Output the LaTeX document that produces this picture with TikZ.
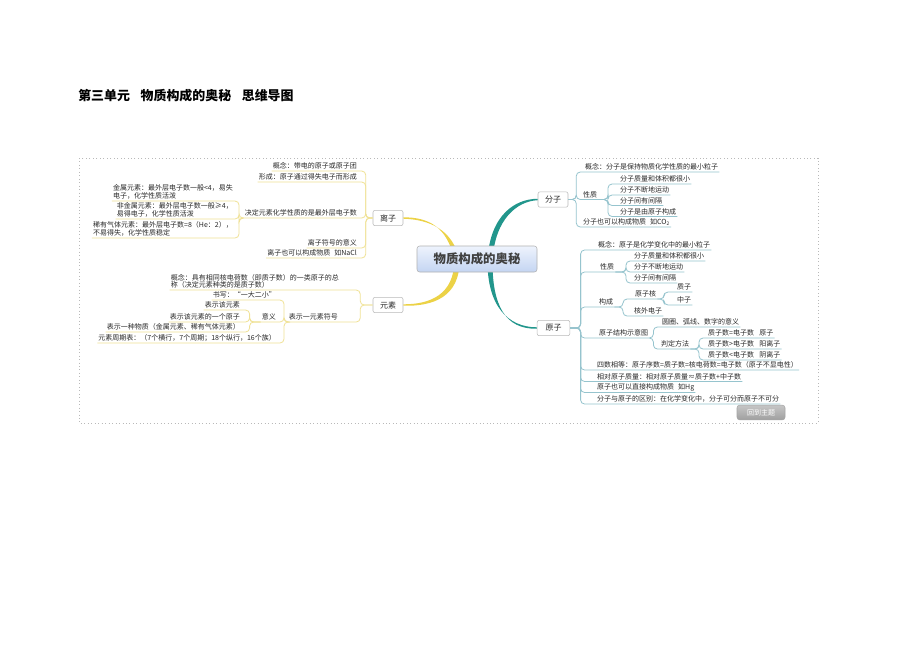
\documentclass[tikz,border=0pt]{standalone}
\usepackage{fontspec}
\newfontfamily\cjk{Noto Sans CJK SC}
\usetikzlibrary{calc}
\definecolor{ybr}{RGB}{236,210,70}
\definecolor{yline}{RGB}{240,226,150}
\definecolor{tbr}{RGB}{34,150,140}
\definecolor{tline}{RGB}{150,196,206}
\definecolor{txt}{RGB}{40,40,40}
\definecolor{cbtop}{RGB}{238,243,253}
\definecolor{cbbot}{RGB}{196,213,242}
\begin{document}
\begin{tikzpicture}[x=0.75pt,y=-0.75pt,
  item/.style={font=\cjk\fontsize{5.25}{5.9}\selectfont, text=txt, inner xsep=0.7pt, inner ysep=0.9pt},
  ritem/.style={item, anchor=south west},
  litem/.style={item, anchor=south east, align=left},
  yl/.style={draw=yline, line width=0.6pt, rounded corners=3pt},
  tl/.style={draw=tline, line width=0.6pt, rounded corners=3pt},
  branch/.style={draw=gray!55, fill=white, rounded corners=1.5pt, font=\cjk\fontsize{6}{7}\selectfont, text=txt, inner sep=0pt, minimum width=22.5pt, minimum height=11.5pt},
  centerbox/.style={draw=gray!60, rounded corners=2pt, top color=cbtop, bottom color=cbbot, font=\cjk\bfseries\fontsize{9.3}{11}\selectfont, text=black!75, minimum width=90pt, minimum height=19.5pt},
  button/.style={draw=gray!70, rounded corners=2pt, top color=gray!45, bottom color=gray!75, font=\cjk\fontsize{5.25}{6}\selectfont, text=white, minimum width=36pt, minimum height=11pt, inner sep=0pt}
]
\useasboundingbox (0,0) rectangle (920,651);
\fill[white] (0,0) rectangle (920,651);

\node[anchor=west, font=\cjk\bfseries\fontsize{9.7}{11}\selectfont, inner sep=0pt] (title) at (78,96) {第三单元\hspace{8pt}物质构成的奥秘\hspace{8pt}思维导图};

\draw[gray!55, dotted, line width=0.6pt] (79,158) rectangle (818,423);

% branch nodes
\node[branch] (lizi) at (388,218) {离子};
\node[branch] (yuansu) at (388,305) {元素};
\node[branch] (fenzi) at (553,199.5) {分子};
\node[branch, minimum width=24.5pt] (yuanzi) at (553.5,328) {原子};

\coordinate (cy) at (457,260);
\coordinate (ct) at (490,260);

% main connectors (tapered)
\fill[ybr] ($(cy)+(-2.5,0)$) .. controls (447,226) and (428,217.3) .. ($(lizi.east)+(0,-0.7)$) -- ($(lizi.east)+(0,0.7)$) .. controls (430,219.5) and (453,230) .. ($(cy)+(2.5,0)$) -- cycle;
\fill[ybr] ($(cy)+(-2.5,0)$) .. controls (454,295) and (430,304.3) .. ($(yuansu.east)+(0,-0.7)$) -- ($(yuansu.east)+(0,0.7)$) .. controls (433,306.5) and (460,297) .. ($(cy)+(2.5,0)$) -- cycle;
\fill[tbr] ($(ct)+(-2.5,0)$) .. controls (490,215) and (515,198.8) .. ($(fenzi.west)+(0,-0.7)$) -- ($(fenzi.west)+(0,0.7)$) .. controls (518,201) and (495,218) .. ($(ct)+(2.5,0)$) -- cycle;
\fill[tbr] ($(ct)+(-2.5,0)$) .. controls (487,306) and (508,327.3) .. ($(yuanzi.west)+(0,-0.7)$) -- ($(yuanzi.west)+(0,0.7)$) .. controls (505,329.5) and (492,305) .. ($(ct)+(2.5,0)$) -- cycle;

\node[centerbox] (c) at (477,259) {物质构成的奥秘};

% ---------- 离子 ----------
\node[litem] (lz1) at (358,171) {概念：带电的原子或原子团};
\node[litem] (lz2) at (358,182) {形成：原子通过得失电子而形成};
\node[litem] (lz3) at (358,218) {决定元素化学性质的是最外层电子数};
\node[litem] (lz4) at (358,248) {离子符号的意义};
\node[litem] (lz5) at (358,258) {离子也可以构成物质\hspace{3pt}如NaCl};
\foreach \n in {lz1,lz2,lz3,lz4,lz5}{\draw[yl] (lizi.west) -- ++(-7,0) |- (\n.south west);}

\node[litem] (m1) at (234,201) {金属元素：最外层电子数一般<4，易失\\电子，化学性质活泼};
\node[litem] (m2) at (234,219) {非金属元素：最外层电子数一般≥4，\\易得电子，化学性质活泼};
\node[litem] (m3) at (234,238) {稀有气体元素：最外层电子数=8（He：2），\\不易得失，化学性质稳定};
\foreach \n in {m1,m2,m3}{\draw[yl] (lz3.south west) -- ++(-4.6,0) |- (\n.south west);}

% ---------- 元素 ----------
\node[litem] (y1) at (340,290) {概念：具有相同核电荷数（即质子数）的一类原子的总\\称（决定元素种类的是质子数）};
\node[litem] (y2) at (339,322) {表示一元素符号};
\foreach \n in {y1,y2}{\draw[yl] (yuansu.west) -- ++(-12.5,0) |- (\n.south west);}

\node[litem] (s1) at (277,300) {书写：“一大二小”};
\node[litem] (s2) at (277,322) {意义};
\node[litem] (s3) at (277,343) {元素周期表：（7个横行，7个周期；18个纵行，16个族）};
\foreach \n in {s1,s2,s3}{\draw[yl] (y2.south west) -- ++(-3.6,0) |- (\n.south west);}

\node[litem] (e1) at (241,310) {表示该元素};
\node[litem] (e2) at (241,322) {表示该元素的一个原子};
\node[litem] (e3) at (241,332) {表示一种物质（金属元素、稀有气体元素）};
\foreach \n in {e1,e2,e3}{\draw[yl] (s2.south west) -- ++(-11,0) |- (\n.south west);}

% ---------- 分子 ----------
\node[ritem] (f1) at (584,172) {概念：分子是保持物质化学性质的最小粒子};
\node[ritem] (f2) at (582,199.5) {性质};
\node[ritem] (f3) at (582,227) {分子也可以构成物质\hspace{3pt}如CO\textsubscript{2}};
\foreach \n in {f1,f2,f3}{\draw[tl] (fenzi.east) -- ++(8,0) |- (\n.south east);}

\node[ritem] (p1) at (619,184) {分子质量和体积都很小};
\node[ritem] (p2) at (619,195) {分子不断地运动};
\node[ritem] (p3) at (619,205.5) {分子间有间隔};
\node[ritem] (p4) at (619,216.5) {分子是由原子构成};
\foreach \n in {p1,p2,p3,p4}{\draw[tl] (f2.south east) -- ++(9.6,0) |- (\n.south east);}

% ---------- 原子 ----------
\node[ritem] (a1) at (597,250) {概念：原子是化学变化中的最小粒子};
\node[ritem] (a2) at (599,272) {性质};
\node[ritem] (a3) at (598,307) {构成};
\node[ritem] (a4) at (598,338) {原子结构示意图};
\node[ritem] (a5) at (596,370) {四数相等：原子序数=质子数=核电荷数=电子数（原子不显电性）};
\node[ritem] (a6) at (596,381.5) {相对原子质量：相对原子质量≈质子数+中子数};
\node[ritem] (a7) at (596,392.5) {原子也可以直接构成物质\hspace{3pt}如Hg};
\node[ritem] (a8) at (596,404) {分子与原子的区别：在化学变化中，分子可分而原子不可分};
\foreach \n in {a1,a2,a3,a4,a5,a6,a7,a8}{\draw[tl] (yuanzi.east) -- ++(10.5,0) |- (\n.south east);}

\node[ritem] (a21) at (633,261) {分子质量和体积都很小};
\node[ritem] (a22) at (633,272) {分子不断地运动};
\node[ritem] (a23) at (633,283) {分子间有间隔};
\foreach \n in {a21,a22,a23}{\draw[tl] (a2.south east) -- ++(10.6,0) |- (\n.south east);}

\node[ritem] (a31) at (634,299) {原子核};
\node[ritem] (a32) at (633,316) {核外电子};
\foreach \n in {a31,a32}{\draw[tl] (a3.south east) -- ++(8.6,0) |- (\n.south east);}

\node[ritem] (a311) at (676,292) {质子};
\node[ritem] (a312) at (676,305) {中子};
\foreach \n in {a311,a312}{\draw[tl] (a31.south east) -- ++(6.6,0) |- (\n.south east);}

\node[ritem] (a41) at (661,327) {圆圈、弧线、数字的意义};
\node[ritem] (a42) at (660,349) {判定方法};
\foreach \n in {a41,a42}{\draw[tl] (a4.south east) -- ++(4,0) |- (\n.south east);}

\node[ritem] (a421) at (707,338) {质子数=电子数\hspace{4pt}原子};
\node[ritem] (a422) at (707,349) {质子数>电子数\hspace{4pt}阳离子};
\node[ritem] (a423) at (707,360) {质子数<电子数\hspace{4pt}阴离子};
\foreach \n in {a421,a422,a423}{\draw[tl] (a42.south east) -- ++(8.6,0) |- (\n.south east);}

\node[button] (btn) at (761,412.5) {回到主题};
\end{tikzpicture}
\end{document}
